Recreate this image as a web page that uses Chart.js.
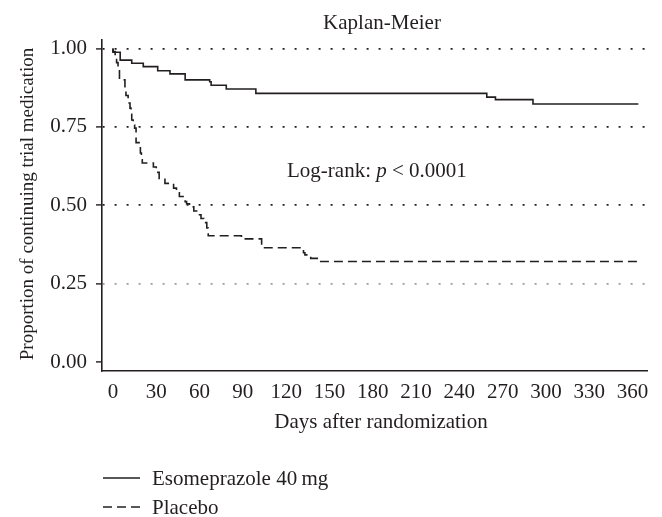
<!DOCTYPE html>
<html>
<head>
<meta charset="utf-8">
<script src="https://cdn.jsdelivr.net/npm/chart.js@4/dist/chart.umd.min.js"></script>
<style>
  html, body { margin: 0; padding: 0; background: #fff; }
  #wrap { width: 662px; height: 517px; }
</style>
</head>
<body>
<div id="wrap"><canvas id="km"></canvas></div>
<script>
// Kaplan-Meier curves (days, proportion still on trial medication)
const esoDays = [0, 5, 13, 21, 31, 39.5, 50, 67, 68, 78.5, 99, 259, 265, 291, 336, 364];
const esoSurv = [1.00, 0.988, 0.963, 0.953, 0.942, 0.929, 0.919, 0.90, 0.894, 0.883, 0.871, 0.857, 0.845, 0.837, 0.823, 0.823];

const plaDays = [0, 1.5, 2.5, 3.5, 4.5, 8.3, 9, 10.5, 11.8, 12.5, 13, 14, 15, 16, 19, 19.7, 20.3,
  28, 30, 32, 36, 42, 44, 46, 50, 51, 53, 56, 59, 61, 63, 65, 66, 89, 103, 132, 133, 137, 143, 176, 364];
const plaSurv = [1.00, 0.99, 0.975, 0.955, 0.937, 0.90, 0.87, 0.85, 0.826, 0.81, 0.79, 0.772, 0.756, 0.746, 0.70, 0.667, 0.645,
  0.635, 0.622, 0.605, 0.583, 0.570, 0.555, 0.540, 0.528, 0.512, 0.505, 0.495, 0.482, 0.470, 0.458, 0.445, 0.428, 0.403, 0.393, 0.365, 0.349, 0.342, 0.331, 0.321, 0.321];

const seriesNames = ["Esomeprazole 40\u2009mg", "Placebo"];
const xTicks = [0, 30, 60, 90, 120, 150, 180, 210, 240, 270, 300, 330, 360];
const yTicks = [0, 0.25, 0.5, 0.75, 1.0];

const chartTitle = "Kaplan-Meier";
const xTitle = "Days after randomization";
const yTitle = "Proportion of continuing trial medication";

const INK = "#231f20";
const FONT = "'Liberation Serif', 'Times New Roman', serif";

function toPoints(xs, ys) {
  return xs.map((x, i) => ({ x, y: ys[i] }));
}

// Titles, log-rank note and legend drawn on the canvas
const textPlugin = {
  id: "kmText",
  afterDraw(chart) {
    const ctx = chart.ctx;
    ctx.save();
    ctx.fillStyle = INK;
    ctx.font = "21px " + FONT;
    ctx.textBaseline = "alphabetic";

    // title
    ctx.textAlign = "center";
    ctx.fillText(chartTitle, 382, 29);

    // x title
    ctx.fillText(xTitle, 381, 428);

    // y title
    ctx.save();
    ctx.font = "19px " + FONT;
    ctx.translate(33, 204);
    ctx.rotate(-Math.PI / 2);
    ctx.fillText(yTitle, 0, 0);
    ctx.restore();

    // log-rank note
    ctx.textAlign = "left";
    let x = 287;
    const base = 177;
    const a = "Log-rank: ";
    ctx.fillText(a, x, base);
    x += ctx.measureText(a).width;
    ctx.font = "italic 21px " + FONT;
    ctx.fillText("p", x, base);
    x += ctx.measureText("p").width;
    ctx.font = "21px " + FONT;
    ctx.fillText(" < 0.0001", x, base);

    // legend
    const rows = [485, 514];
    chart.data.datasets.forEach((ds, i) => {
      const y = rows[i];
      ctx.strokeStyle = ds.borderColor;
      ctx.lineWidth = ds.borderWidth;
      ctx.setLineDash(ds.borderDash || []);
      ctx.beginPath();
      ctx.moveTo(103, y - 7);
      ctx.lineTo(140, y - 7);
      ctx.stroke();
      ctx.setLineDash([]);
      ctx.fillText(ds.label, 152, y);
    });
    ctx.restore();
  }
};

new Chart(document.getElementById("km"), {
  type: "line",
  data: {
    datasets: [
      {
        label: seriesNames[0],
        data: toPoints(esoDays, esoSurv),
        stepped: "after",
        borderColor: INK,
        borderWidth: 1.6,
        pointRadius: 0,
        fill: false
      },
      {
        label: seriesNames[1],
        data: toPoints(plaDays, plaSurv),
        stepped: "after",
        borderColor: INK,
        borderWidth: 1.6,
        borderDash: [9, 5],
        pointRadius: 0,
        fill: false
      }
    ]
  },
  options: {
    responsive: true,
    maintainAspectRatio: false,
    animation: false,
    layout: { padding: { top: 40, right: 15, left: 0, bottom: 0 } },
    plugins: {
      legend: { display: false },
      title: { display: false },
      tooltip: { enabled: false }
    },
    scales: {
      x: {
        type: "linear",
        min: -7.6,
        max: 370,
        afterBuildTicks: (s) => { s.ticks = xTicks.map(v => ({ value: v })); },
        afterFit: (s) => { s.height = 146; },
        grid: { display: false, drawTicks: false },
        border: { display: true, color: INK, width: 1.6 },
        ticks: {
          color: INK,
          font: { family: FONT, size: 21 },
          padding: 9,
          maxRotation: 0,
          autoSkip: false
        }
      },
      y: {
        type: "linear",
        min: -0.028,
        max: 1.027,
        afterBuildTicks: (s) => { s.ticks = yTicks.map(v => ({ value: v })); },
        afterFit: (s) => { s.width = 102; },
        grid: {
          color: (c) => {
            const v = c.tick ? c.tick.value : null;
            if (v === 0) return "rgba(0,0,0,0)";
            if (v === 0.25) return "#9b9b9b";
            return INK;
          },
          lineWidth: 1.8,
          drawTicks: true,
          tickLength: 6,
          tickColor: INK,
          tickWidth: 1.4
        },
        border: { display: true, color: INK, width: 1.6, dash: [2, 10] },
        ticks: {
          color: INK,
          font: { family: FONT, size: 21 },
          padding: 9,
          callback: (v) => Number(v).toFixed(2)
        }
      }
    }
  },
  plugins: [textPlugin]
});
</script>
</body>
</html>
